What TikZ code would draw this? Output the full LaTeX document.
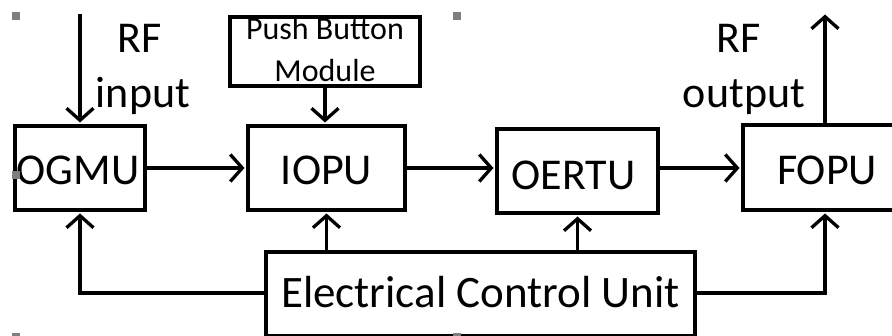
\documentclass[tikz,border=0pt]{standalone}
\usepackage{fontspec}
\setmainfont{Carlito}
\usetikzlibrary{arrows.meta,calc}
\begin{document}
\begin{tikzpicture}[x=1pt,y=-1pt,
  blk/.style={draw,line width=4pt,inner sep=0pt,text depth=0pt,fill=white},
  big/.style={font=\fontsize{44}{50}\selectfont},
  conn/.style={line width=3.3pt,shorten >=1.5pt,-{Straight Barb[length=12pt,width=27pt,line width=3.3pt]}},
  handle/.style={fill=black!50,draw=none,minimum size=8pt,inner sep=0pt},
  lbl/.style={inner sep=0pt,anchor=base,font=\fontsize{44}{50}\selectfont}]
\useasboundingbox (0,0) rectangle (892,336);
\clip (0,0) rectangle (892,336);
% blocks
\node[blk,big,minimum width=130pt,minimum height=84pt,text height=34pt] (ogmu) at (80,168) {\hspace*{-4pt}OGMU};
\node[blk,big,minimum width=157pt,minimum height=84pt,text height=34pt] (iopu) at (326.5,168) {IOPU};
\node[blk,big,minimum width=161pt,minimum height=84pt,text height=38pt] (oertu) at (577.5,171) {\hspace*{-8pt}OERTU};
\node[blk,big,minimum width=168pt,minimum height=85pt,text height=35pt] (fopu) at (827,167.5) {FOPU};
\node[blk,font=\fontsize{45}{54}\selectfont,minimum width=429pt,minimum height=84pt,text height=28pt] (ecu) at (480.5,294) {Electrical Control Unit};
\node[blk,font=\fontsize{32}{42}\selectfont,align=center,minimum width=190pt,minimum height=67pt,text depth=5pt] (push) at (325,51.5) {Push Button\\Module};
% labels
\node[lbl] (rf1) at (140,53) {RF};
\node[lbl] (in1) at (143,108) {input};
\node[lbl] (rf2) at (739,53) {RF};
\node[lbl] (out2) at (744,108) {output};
% connectors
\coordinate (rfinTop) at (80,14);
\coordinate (rfoutTop) at (825,13);
\draw[conn] (rfinTop) -- (ogmu.north);
\draw[conn] (ogmu.east) -- (iopu.west);
\draw[conn] (iopu.east) -- (iopu.east -| oertu.west);
\draw[conn] (oertu.east |- iopu.east) -- (fopu.west |- iopu.east);
\draw[conn] (push.south) -- (push.south |- iopu.north);
\draw[conn] (rfoutTop |- fopu.north) -- (rfoutTop);
\draw[conn] (ecu.west |- 0,293) -| (ogmu.south);
\draw[conn] (iopu.south |- ecu.north) -- (iopu.south);
\draw[conn] (oertu.south |- ecu.north) -- (oertu.south);
\draw[conn] (ecu.east |- 0,293) -| (fopu.south -| rfoutTop);
% selection handles
\node[handle] (h1) at (16,16) {};
\node[handle] (h2) at (16,175) {};
\node[handle] (h3) at (457,16) {};
\node[handle] (h4) at (16,337) {};
\node[handle] (h5) at (457,337) {};
\end{tikzpicture}
\end{document}
